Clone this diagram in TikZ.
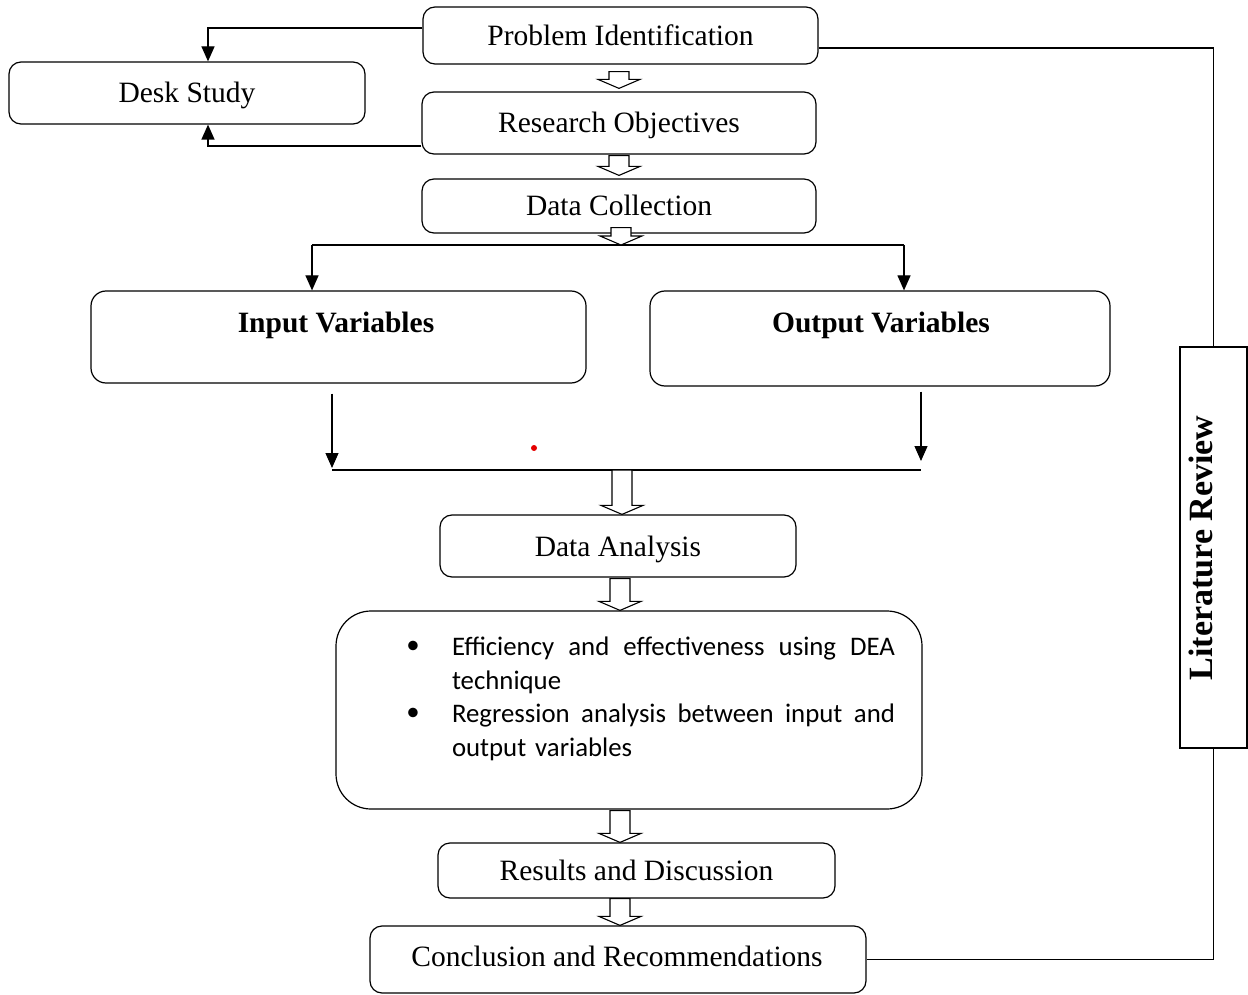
\documentclass[tikz,border=0pt]{standalone}
\usepackage{fontspec}
\setmainfont{Liberation Serif}
\newfontfamily\calibrifont{Carlito}
\usetikzlibrary{arrows.meta,calc}
\newcommand\blockarrow[5]{%
 \draw[blockarr] let \p1=(#2), \p2=(#4) in
 ({#1pt-10pt},{\y1-(#3pt)}) -- ({#1pt+10pt},{\y1-(#3pt)}) --
 ({#1pt+10pt},{\y2+#5pt+9pt}) -- ({#1pt+21pt},{\y2+#5pt+9pt}) --
 ({#1pt},{\y2+#5pt}) -- ({#1pt-21pt},{\y2+#5pt+9pt}) --
 ({#1pt-10pt},{\y2+#5pt+9pt}) -- cycle;}
\begin{document}
\begin{tikzpicture}[x=1pt,y=-1pt,
 txt/.style={inner sep=0pt, text height=20pt, text depth=0pt, font=\fontsize{29.5}{34}\selectfont},
 box/.style={draw, line width=1.2pt, rounded corners=12pt, inner sep=0pt, text height=20pt, text depth=0pt, font=\fontsize{29.5}{34}\selectfont},
 lbl/.style={txt, font=\fontsize{29.5}{34}\selectfont\bfseries},
 conn/.style={line width=1.2pt},
 arr/.style={line width=1.2pt, -{Triangle[length=15pt,width=13pt]}},
 blockarr/.style={draw, line width=1.1pt, fill=white, line join=miter}]
\useasboundingbox (0,0) rectangle (1248,995);

% boxes
\node[box, minimum width=395pt, minimum height=57pt] (pi) at (620.5,35.5) {Problem Identification};
\node[box, minimum width=356pt, minimum height=62pt] (desk) at (187,93) {Desk Study};
\node[box, minimum width=394pt, minimum height=62pt] (ro) at (619,123) {Research Objectives};
\node[box, minimum width=394pt, minimum height=54pt] (dc) at (619,206) {Data Collection};
\node[box, rounded corners=15pt, minimum width=495pt, minimum height=92pt] (inp) at (338.5,337) {};
\node[lbl] (inpt) at (336,322) {Input Variables};
\node[box, rounded corners=15pt, minimum width=460pt, minimum height=95pt] (outp) at (880,338.5) {};
\node[lbl] (outpt) at (881,322) {Output Variables};
\node[box, minimum width=356pt, minimum height=62pt] (da) at (618,546) {Data Analysis};
\node[box, rounded corners=35pt, minimum width=586pt, minimum height=198pt] (big) at (629,710) {};
\node[inner sep=0pt, text width=443pt, align=left, font=\calibrifont\fontsize{26.8}{33.5}\selectfont] (bigt) at (673.5,699)
 {Efficiency\hfill and\hfill effectiveness\hfill using\hfill DEA\\
  technique\\
  Regression\hfill analysis\hfill between\hfill input\hfill and\\
  output variables};
\node[inner sep=0pt, font=\calibrifont\fontsize{26.8}{33.5}\selectfont] (b1) at (413,647) {•};
\node[inner sep=0pt, font=\calibrifont\fontsize{26.8}{33.5}\selectfont] (b2) at (413,714) {•};
\node[box, minimum width=397pt, minimum height=55pt] (rd) at (636.5,870.5) {Results and Discussion};
\node[box, minimum width=496pt, minimum height=67pt] (cr) at (618,959.5) {};
\node[txt] (crt) at (617,956) {Conclusion and Recommendations};
\node[draw, line width=1.2pt, minimum width=67pt, minimum height=401pt, inner sep=0pt] (lr) at (1213.5,547.5) {};
\node[rotate=90, inner sep=0pt, font=\fontsize{34}{40}\selectfont\bfseries] (lrt) at (1201,548) {Literature Review};

% desk study connectors
\draw[arr] ([yshift=7.5pt]pi.west) -| ([xshift=21pt]desk.north);
\draw[arr] ([yshift=-23pt]ro.west) -| ([xshift=21pt]desk.south);

% literature review loop
\draw[conn] ([yshift=-12.5pt]pi.east) -| (lr.north);
\draw[conn] (lr.south) |- (cr.east);

% branch to input/output
\coordinate (bl) at (312,245);
\coordinate (br) at (904,245);
\draw[conn] (bl) -- (br);
\draw[arr] (bl) -- (inp.north -| bl);
\draw[arr] (br) -- (outp.north -| br);

% merge line
\coordinate (ml) at (332,470);
\coordinate (mr) at (921,470);
\draw[conn] (ml) -- (mr);
\coordinate (ia) at ([yshift=-10pt]inp.south);
\coordinate (oa) at ([yshift=-5pt]outp.south);
\draw[arr] (ia -| ml) -- ([yshift=2pt]ml);
\draw[arr] (oa -| mr) -- ([yshift=9pt]mr);

% stray dot
\fill[red!90!black] (534,448) circle[radius=3pt];

% hollow block arrows
\blockarrow{619}{pi.south}{7}{ro.north}{3}
\blockarrow{619}{ro.south}{1}{dc.north}{3}
\blockarrow{621}{dc.south}{-6}{bl}{0}
\blockarrow{622}{ml}{0}{da.north}{0}
\blockarrow{620}{da.south}{1}{big.north}{0}
\blockarrow{620}{big.south}{1}{rd.north}{0}
\blockarrow{620}{rd.south}{0}{cr.north}{0}
\end{tikzpicture}
\end{document}
